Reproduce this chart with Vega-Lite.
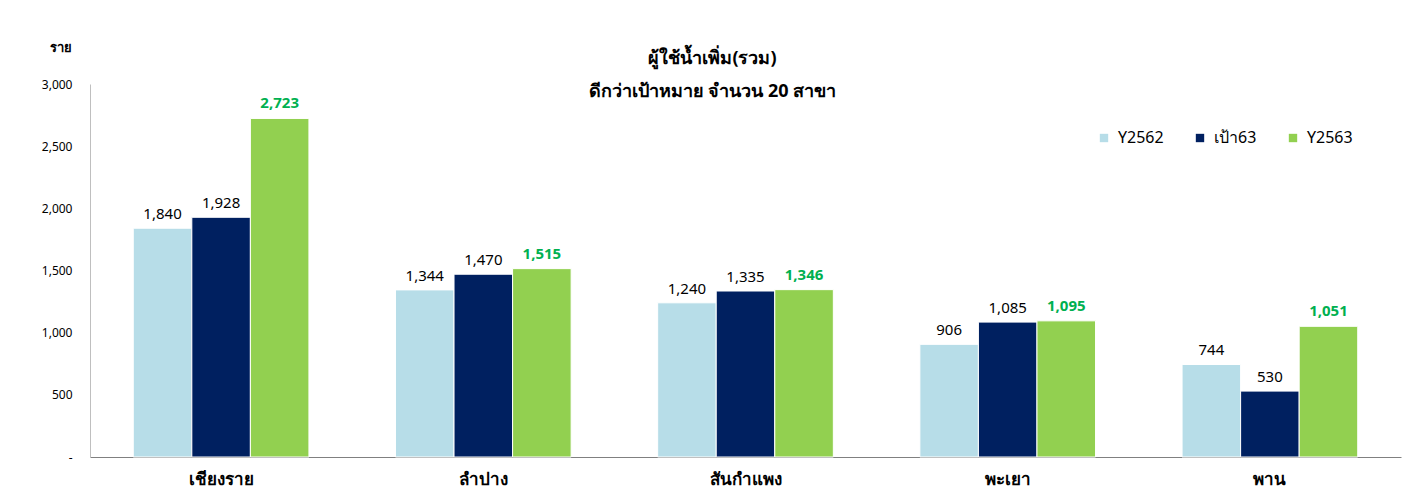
{
  "$schema": "https://vega.github.io/schema/vega-lite/v6.json",
  "width": 1311,
  "height": 373,
  "autosize": {"type": "none"},
  "padding": {"left": 90, "top": 84, "right": 12, "bottom": 45},
  "background": "white",
  "config": {"view": {"stroke": null}, "font": "Tahoma, 'Noto Sans', sans-serif"},
  "title": {
    "text": "ผู้ใช้น้ำเพิ่ม(รวม)",
    "subtitle": "ดีกว่าเป้าหมาย จำนวน 20 สาขา",
    "anchor": "middle",
    "dx": -33,
    "offset": -60,
    "fontSize": 18,
    "subtitleFontSize": 18,
    "fontWeight": "bold",
    "subtitleFontWeight": "bold",
    "color": "#000000",
    "subtitleColor": "#000000",
    "subtitlePadding": 15
  },
  "data": {
    "values": [
      {"branch": "เชียงราย", "series": "Y2562", "value": 1840},
      {"branch": "เชียงราย", "series": "เป้า63", "value": 1928},
      {"branch": "เชียงราย", "series": "Y2563", "value": 2723},
      {"branch": "ลำปาง", "series": "Y2562", "value": 1344},
      {"branch": "ลำปาง", "series": "เป้า63", "value": 1470},
      {"branch": "ลำปาง", "series": "Y2563", "value": 1515},
      {"branch": "สันกำแพง", "series": "Y2562", "value": 1240},
      {"branch": "สันกำแพง", "series": "เป้า63", "value": 1335},
      {"branch": "สันกำแพง", "series": "Y2563", "value": 1346},
      {"branch": "พะเยา", "series": "Y2562", "value": 906},
      {"branch": "พะเยา", "series": "เป้า63", "value": 1085},
      {"branch": "พะเยา", "series": "Y2563", "value": 1095},
      {"branch": "พาน", "series": "Y2562", "value": 744},
      {"branch": "พาน", "series": "เป้า63", "value": 530},
      {"branch": "พาน", "series": "Y2563", "value": 1051}
    ]
  },
  "encoding": {
    "x": {
      "field": "branch",
      "type": "nominal",
      "sort": ["เชียงราย", "ลำปาง", "สันกำแพง", "พะเยา", "พาน"],
      "scale": {"paddingInner": 0.33, "paddingOuter": 0.165},
      "axis": {
        "title": null,
        "labelAngle": 0,
        "labelFontSize": 17,
        "labelFontWeight": "bold",
        "labelColor": "#000000",
        "labelPadding": 14,
        "ticks": false,
        "domainColor": "#808080",
        "domainWidth": 1
      }
    },
    "xOffset": {"field": "series", "type": "nominal", "sort": ["Y2562", "เป้า63", "Y2563"]},
    "y": {
      "field": "value",
      "type": "quantitative",
      "scale": {"domain": [0, 3000]},
      "axis": {
        "title": "ราย",
        "titleAngle": 0,
        "titleX": -30,
        "titleY": -37,
        "titleAlign": "center",
        "titleBaseline": "middle",
        "titleFontSize": 13,
        "titleFontWeight": "bold",
        "titleColor": "#000000",
        "values": [0, 500, 1000, 1500, 2000, 2500, 3000],
        "labelExpr": "datum.value == 0 ? '-' : format(datum.value, ',')",
        "labelFontSize": 12,
        "labelColor": "#000000",
        "labelPadding": 18,
        "ticks": false,
        "grid": false,
        "domainColor": "#BFBFBF",
        "domainWidth": 1
      }
    }
  },
  "layer": [
    {
      "mark": {"type": "bar", "stroke": "#FFFFFF", "strokeWidth": 1},
      "encoding": {
        "color": {
          "field": "series",
          "type": "nominal",
          "sort": ["Y2562", "เป้า63", "Y2563"],
          "scale": {"domain": ["Y2562", "เป้า63", "Y2563"], "range": ["#B7DDE8", "#002060", "#92D050"]},
          "legend": {
            "title": null,
            "orient": "none",
            "legendX": 1006,
            "legendY": 46,
            "direction": "horizontal",
            "symbolType": "square",
            "symbolSize": 70,
            "symbolStrokeWidth": 0,
            "labelFontSize": 16,
            "labelColor": "#000000",
            "labelOffset": 6,
            "columnPadding": 28
          }
        }
      }
    },
    {
      "transform": [{"filter": "datum.series != 'Y2563'"}],
      "mark": {"type": "text", "baseline": "alphabetic", "dy": -9, "fontSize": 15, "color": "#000000"},
      "encoding": {"text": {"field": "value", "type": "quantitative", "format": ","}}
    },
    {
      "transform": [{"filter": "datum.series == 'Y2563'"}],
      "mark": {"type": "text", "baseline": "alphabetic", "dy": -10, "fontSize": 15, "fontWeight": "bold", "color": "#00B050"},
      "encoding": {"text": {"field": "value", "type": "quantitative", "format": ","}}
    }
  ]
}
